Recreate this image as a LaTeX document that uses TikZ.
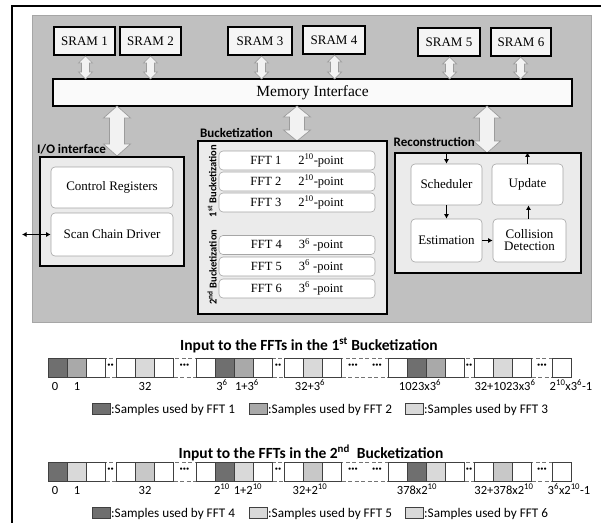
\documentclass[tikz,border=0pt]{standalone}
\usepackage{fontspec}
\setmainfont{Liberation Serif}
\newfontfamily\calib{Carlito}
\usetikzlibrary{arrows.meta,calc}
\definecolor{panelgray}{HTML}{C0C0C0}
\definecolor{boxgray}{HTML}{EBEBEB}
\definecolor{arrowfill}{HTML}{F2F2F2}
\definecolor{arrowline}{HTML}{9C9C9C}
\definecolor{cdark}{HTML}{6F6F6F}
\definecolor{cmid}{HTML}{A9A9A9}
\definecolor{clight}{HTML}{D9D9D9}
\definecolor{clighttwo}{HTML}{C8C8C8}
\newcommand\blockarr[6]{% cx, ytop, ybot, shaftw, headw, headl
 \draw[blockarrow] (#1,#2) -- ({#1+#5/2},{#2+#6}) -- ({#1+#4/2},{#2+#6}) -- ({#1+#4/2},{#3-#6}) -- ({#1+#5/2},{#3-#6}) -- (#1,#3) -- ({#1-#5/2},{#3-#6}) -- ({#1-#4/2},{#3-#6}) -- ({#1-#4/2},{#2+#6}) -- ({#1-#5/2},{#2+#6}) -- cycle;}
\newcommand\fs[1]{\fontsize{#1}{#1}\selectfont}
\begin{document}
\begin{tikzpicture}[x=1pt,y=-1pt,
  sram/.style={draw, line width=1.1pt, fill=white!96!black, font=\fs{13}, inner sep=0pt},
  membox/.style={draw, line width=1.1pt, fill=white!98!black, font=\fs{15.5}, inner sep=0pt},
  groupbox/.style={draw, line width=1.4pt, fill=boxgray, inner sep=0pt},
  inner/.style={draw=black!35, line width=0.6pt, fill=white, rounded corners=4pt, font=\fs{13}, inner sep=0pt, align=center},
  fftbox/.style={draw=black!35, line width=0.6pt, fill=white, rounded corners=4pt, font=\fs{12.5}, inner sep=0pt, minimum width=156, minimum height=19},
  grouplabel/.style={font=\calib\bfseries\fs{13}, inner sep=0pt, anchor=base west},
  rotlabel/.style={font=\calib\bfseries\fs{10.5}, inner sep=0pt, rotate=90},
  blockarrow/.style={draw=arrowline, fill=arrowfill, line width=0.7pt, line join=miter},
  flow/.style={line width=1.1pt, -{Latex[length=4.5pt,width=5pt]}},
  cellline/.style={draw=black!75, line width=0.7pt},
  seg/.style={draw=black!55, line width=0.7pt, dash pattern=on 4pt off 2.5pt},
  dots/.style={font=\calib\bfseries\fs{12}, inner sep=0pt},
  idx/.style={font=\calib\fs{12.5}, inner sep=0pt, anchor=base},
  title/.style={font=\calib\bfseries\fs{15.5}, inner sep=0pt, anchor=base},
  legtext/.style={font=\calib\fs{13.2}, inner sep=0pt, anchor=base west},
  legsq/.style={draw=black!75, line width=0.7pt}
]
\useasboundingbox (0,0) rectangle (601,522);
\clip (0,0) rectangle (601,522);
% outer frame
\draw[line width=2pt] (12,540) -- (12,6) -- (620,6);
% panel
\draw[fill=panelgray, draw=black!35, line width=0.6pt] (32,15) rectangle (591,322);

% SRAMs
\node[sram, minimum width=61, minimum height=28] (s1) at (84.5,41) {SRAM 1};
\node[sram, minimum width=61, minimum height=28] (s2) at (150.5,41) {SRAM 2};
\node[sram, minimum width=64, minimum height=28] (s3) at (260,41) {SRAM 3};
\node[sram, minimum width=62, minimum height=28] (s4) at (334,40) {SRAM 4};
\node[sram, minimum width=62, minimum height=28] (s5) at (449,42) {SRAM 5};
\node[sram, minimum width=60, minimum height=28] (s6) at (521,42) {SRAM 6};
% memory interface
\node[membox, minimum width=519, minimum height=27] (mi) at (312.5,92.5) {Memory Interface};

% small block arrows
\blockarr{85.5}{56}{79}{8}{14}{7}
\blockarr{150.5}{56}{79}{8}{14}{7}
\blockarr{261.5}{56}{79}{8}{14}{7}
\blockarr{334.5}{55}{79}{8}{14}{7}
\blockarr{449.5}{57}{79}{8}{14}{7}
\blockarr{520.5}{57}{79}{8}{14}{7}
% big block arrows
\blockarr{117}{106}{156}{15}{27}{12}
\blockarr{297}{106}{141}{15}{27}{11}
\blockarr{487}{106}{153}{15}{27}{12}

% I/O interface
\node[groupbox, minimum width=144, minimum height=109] (io) at (112,211.5) {};
\node[grouplabel] (iolab) at (37,153) {I/O interface};
\node[inner, minimum width=122, minimum height=41] (ctrl) at (112,187.5) {Control Registers};
\node[inner, minimum width=122, minimum height=43] (scan) at (112,234.5) {Scan Chain Driver};
\coordinate (ext) at (22,234.5);
\draw[line width=1pt, {Latex[length=4.5pt,width=5pt]}-{Latex[length=4.5pt,width=5pt]}] (ext) -- (scan.west);

% Bucketization
\node[groupbox, minimum width=189, minimum height=173] (bk) at (292.5,227.5) {};
\node[grouplabel] (bklab) at (200,137.5) {Bucketization};
\node[fftbox] (f1) at (297,160.5) {FFT 1\hspace{17pt}2\textsuperscript{10}-point};
\node[fftbox] (f2) at (297,181.5) {FFT 2\hspace{17pt}2\textsuperscript{10}-point};
\node[fftbox] (f3) at (297,202.5) {FFT 3\hspace{17pt}2\textsuperscript{10}-point};
\node[fftbox] (f4) at (297,245) {FFT 4\hspace{17pt}3\textsuperscript{6} -point};
\node[fftbox] (f5) at (297,266.5) {FFT 5\hspace{17pt}3\textsuperscript{6} -point};
\node[fftbox] (f6) at (297,288.5) {FFT 6\hspace{17pt}3\textsuperscript{6} -point};
\node[rotlabel] (b1lab) at (212,181) {1\textsuperscript{st} Bucketization};
\node[rotlabel] (b2lab) at (212,267) {2\textsuperscript{nd} Bucketization};

% Reconstruction
\node[groupbox, minimum width=186, minimum height=120] (rc) at (488,213) {};
\node[grouplabel] (rclab) at (393.5,146) {Reconstruction};
\node[inner, minimum width=71, minimum height=41] (sch) at (446.5,184.5) {Scheduler};
\node[inner, minimum width=71, minimum height=41] (upd) at (527.5,184.5) {Update};
\node[inner, minimum width=71, minimum height=43] (est) at (446.5,240.5) {Estimation};
\node[inner, minimum width=73, minimum height=43] (col) at (529.5,240.5) {Collision\\[-1pt]Detection};
\draw[flow] (sch.north |- rc.north) -- (sch.north);
\draw[flow] (sch.south) -- (est.north);
\draw[flow] (est.east) -- (col.west);
\draw[flow] ([xshift=-1pt]col.north) -- ([xshift=-1pt]col.north |- upd.south);
\draw[flow] (upd.north) -- (upd.north |- rc.north);

% ===== Bottom rows =====
\node[title] (t1) at (309,350) {Input to the FFTs in the 1\textsuperscript{st} Bucketization};
\node[title] (t2) at (311,458) {Input to the FFTs in the 2\textsuperscript{nd}\ \ Bucketization};

% row 1
\foreach \a/\b in {105/116,173/196,272/284,341/388,464/474,531/552}
  \draw[seg] (\a,358) rectangle (\b,377);
\foreach \x/\c in {48/cdark,67/cmid,86/white,116/white,135/clight,154/white,196/white,215/cdark,234/cmid,253/white,284/white,303/clight,322/white,388/white,407/cdark,426/cmid,445/white,474/white,493/clight,512/white,552/white}
  \draw[cellline, fill=\c] (\x,358) rectangle ++(19,19);
\foreach \x/\t [count=\i] in {110.5/··,184.5/···,278/··,353/···,377/···,469/··,542/···}
  \node[dots] (dA\i) at (\x,366.5) {\t};
\node[idx] (l10) at (55,390) {0};
\node[idx] (l11) at (77,390) {1};
\node[idx] (l12) at (145,390) {32};
\node[idx] (l13) at (222,390) {3\textsuperscript{6}};
\node[idx] (l14) at (247,390) {1+3\textsuperscript{6}};
\node[idx] (l15) at (310,390) {32+3\textsuperscript{6}};
\node[idx] (l16) at (420,390) {1023x3\textsuperscript{6}};
\node[idx] (l17) at (505,390) {32+1023x3\textsuperscript{6}};
\node[idx] (l18) at (571,390) {2\textsuperscript{10}x3\textsuperscript{6}-1};
% legend 1
\draw[legsq, fill=cdark] (92,403) rectangle (110,414);
\node[legtext] (g11) at (111,413) {:Samples used by FFT 1};
\draw[legsq, fill=cmid] (249,403) rectangle (267,414);
\node[legtext] (g12) at (268,413) {:Samples used by FFT 2};
\draw[legsq, fill=clight] (405,403) rectangle (423,414);
\node[legtext] (g13) at (424,413) {:Samples used by FFT 3};

% row 2
\foreach \a/\b in {105/116,173/196,272/284,341/388,464/474,531/552}
  \draw[seg] (\a,462) rectangle (\b,481);
\foreach \x/\c in {48/cdark,67/clight,86/white,116/white,135/clighttwo,154/white,196/white,215/cdark,234/clight,253/white,284/white,303/clighttwo,322/white,388/white,407/cdark,426/clight,445/white,474/white,493/clighttwo,512/white,552/white}
  \draw[cellline, fill=\c] (\x,462) rectangle ++(19,19);
\foreach \x/\t [count=\i] in {110.5/··,184.5/···,278/··,353/···,377/···,469/··,542/···}
  \node[dots] (dB\i) at (\x,470.5) {\t};
\node[idx] (l20) at (55,494) {0};
\node[idx] (l21) at (77,494) {1};
\node[idx] (l22) at (145,494) {32};
\node[idx] (l23) at (222,494) {2\textsuperscript{10}};
\node[idx] (l24) at (248,494) {1+2\textsuperscript{10}};
\node[idx] (l25) at (310,494) {32+2\textsuperscript{10}};
\node[idx] (l26) at (417,494) {378x2\textsuperscript{10}};
\node[idx] (l27) at (504,494) {32+378x2\textsuperscript{10}};
\node[idx] (l28) at (569,494) {3\textsuperscript{6}x2\textsuperscript{10}-1};
% legend 2
\draw[legsq, fill=cdark] (92,507) rectangle (110,518);
\node[legtext] (g21) at (111,517) {:Samples used by FFT 4};
\draw[legsq, fill=clight] (249,507) rectangle (267,518);
\node[legtext] (g22) at (268,517) {:Samples used by FFT 5};
\draw[legsq, fill=clight] (405,507) rectangle (423,518);
\node[legtext] (g23) at (424,517) {:Samples used by FFT 6};
\end{tikzpicture}
\end{document}
